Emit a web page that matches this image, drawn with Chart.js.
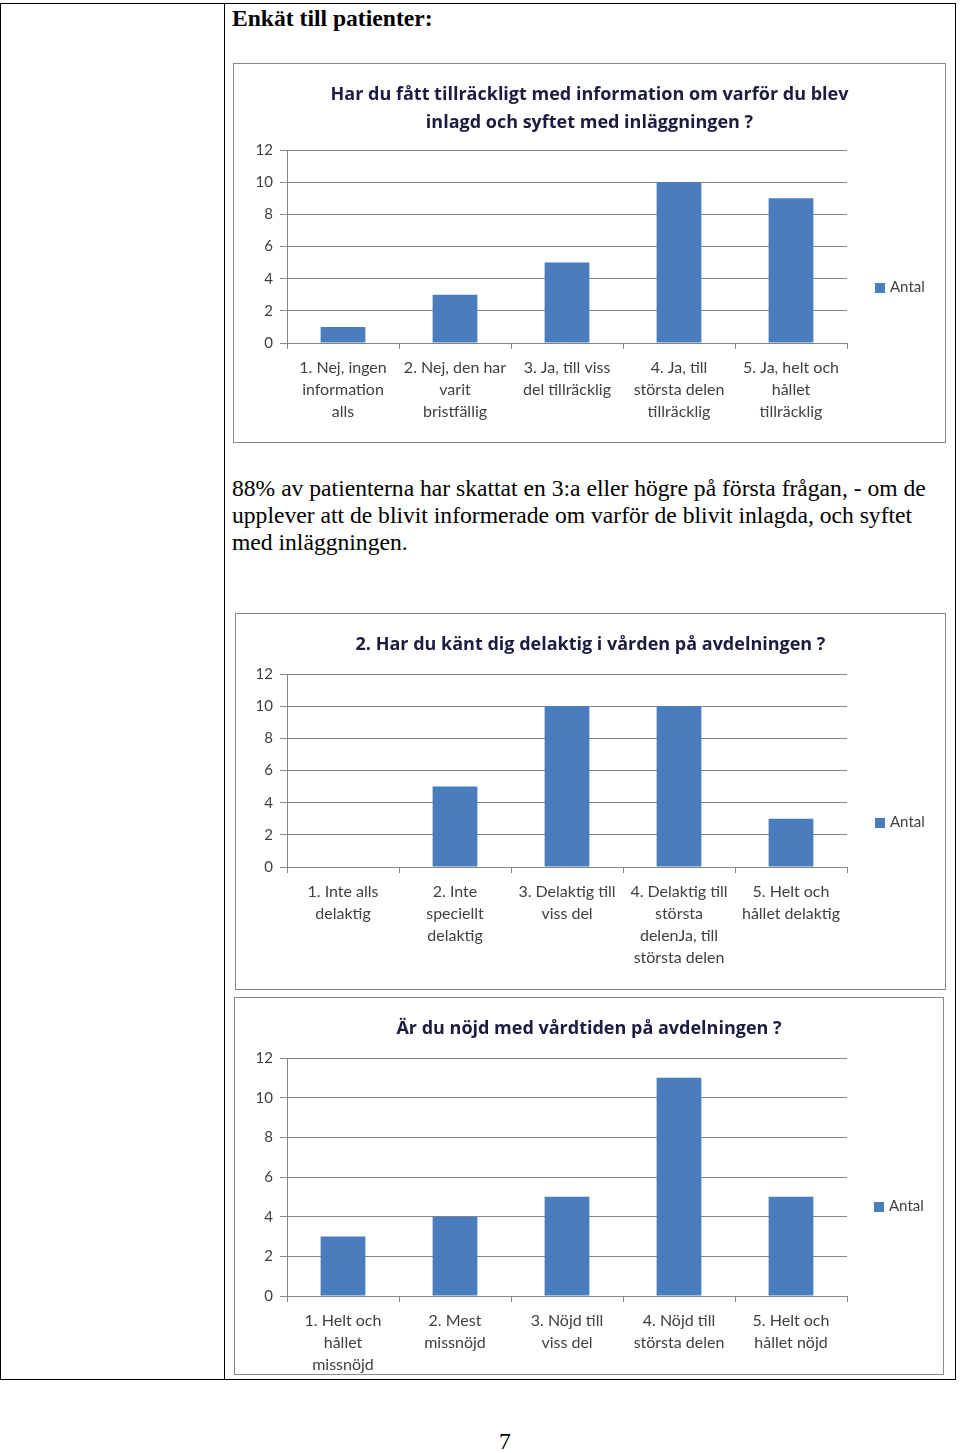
<!DOCTYPE html>
<html lang="sv">
<head>
<meta charset="utf-8">
<title>Enkät till patienter</title>
<script src="https://cdn.jsdelivr.net/npm/chart.js@4.4.1/dist/chart.umd.min.js"></script>
<style>
  body { margin: 0; background: #fff; width: 960px; height: 1453px; position: relative; overflow: hidden; }
  .abs { position: absolute; }
  .serif { font-family: "Liberation Serif", "DejaVu Serif", serif; color: #000; font-size: 23.6px; line-height: 27px; white-space: nowrap; }
  .box { position: absolute; border: 1px solid #8a8a8a; background: #fff; }
  .legend { position: absolute; font-family: Lato, "Open Sans", sans-serif; font-size: 15px; color: #404040; white-space: nowrap; }
  .legend i { display: inline-block; width: 10px; height: 10px; background: #4a7dbd; margin-right: 5px; vertical-align: -1px; }
</style>
</head>
<body>
<div class="abs" style="left:0;top:3px;width:954px;height:1375px;border:1px solid #000;"></div>
<div class="abs" style="left:224px;top:3px;width:1px;height:1377px;background:#000;"></div>

<div class="abs serif" style="left:232px;top:5px;font-weight:bold;">Enkät till patienter:</div>

<div class="box" style="left:233px;top:63px;width:711px;height:378px;"><canvas id="c1" width="711" height="378"></canvas></div>
<div class="legend" style="left:875px;top:277px;"><i></i>Antal</div>

<div class="abs serif" style="left:232px;top:475px;">88% av patienterna har skattat en 3:a eller högre på första frågan, - om de<br>upplever att de blivit informerade om varför de blivit inlagda, och syftet<br>med inläggningen.</div>

<div class="box" style="left:235px;top:613px;width:709px;height:375px;"><canvas id="c2" width="709" height="375"></canvas></div>
<div class="legend" style="left:875px;top:812px;"><i></i>Antal</div>

<div class="box" style="left:234px;top:997px;width:708px;height:376px;"><canvas id="c3" width="708" height="376"></canvas></div>
<div class="legend" style="left:874px;top:1196px;"><i></i>Antal</div>

<div class="abs serif" style="left:499px;top:1428px;">7</div>

<script>
// fråga 1
const title1 = ['Har du fått tillräckligt med information om varför du blev', 'inlagd och syftet med inläggningen ?'];
const categories1 = [
    ['1. Nej, ingen', 'information', 'alls'],
    ['2. Nej, den har', 'varit', 'bristfällig'],
    ['3. Ja, till viss', 'del tillräcklig'],
    ['4. Ja, till', 'största delen', 'tillräcklig'],
    ['5. Ja, helt och', 'hållet', 'tillräcklig']
];
const values1 = [1, 3, 5, 10, 9];

// fråga 2
const title2 = ['2. Har du känt dig delaktig i vården på avdelningen ?'];
const categories2 = [
    ['1. Inte alls', 'delaktig'],
    ['2. Inte', 'speciellt', 'delaktig'],
    ['3. Delaktig till', 'viss del'],
    ['4. Delaktig till', 'största', 'delenJa, till', 'största delen'],
    ['5. Helt och', 'hållet delaktig']
];
const values2 = [0, 5, 10, 10, 3];

// fråga 3
const title3 = ['Är du nöjd med vårdtiden på avdelningen ?'];
const categories3 = [
    ['1. Helt och', 'hållet', 'missnöjd'],
    ['2. Mest', 'missnöjd'],
    ['3. Nöjd till', 'viss del'],
    ['4. Nöjd till', 'största delen'],
    ['5. Helt och', 'hållet nöjd']
];
const values3 = [3, 4, 5, 11, 5];

const seriesName = 'Antal';
const yMax = 12;
const yStep = 2;

const font = 'Lato, "Open Sans", sans-serif';
const barColor = '#4a7dbd';
const lineColor = '#868686';

function makeChart(id, title, labels, values, box) {
    const ctx = document.getElementById(id).getContext('2d');
    return new Chart(ctx, {
        type: 'bar',
        data: {
            labels: labels,
            datasets: [{
                label: seriesName,
                data: values,
                backgroundColor: barColor,
                categoryPercentage: 1,
                barPercentage: 0.4
            }]
        },
        options: {
            responsive: false,
            animation: false,
            layout: { padding: 0 },
            plugins: {
                legend: { display: false },
                tooltip: { enabled: false },
                title: {
                    display: true,
                    text: title,
                    color: '#1c1c40',
                    font: { family: '"Open Sans", Lato, sans-serif', size: 18, weight: 'bold', lineHeight: '28px' },
                    padding: { top: 17, bottom: box.titleBottom }
                }
            },
            scales: {
                x: {
                    offset: true,
                    grid: { drawOnChartArea: false, offset: true, tickLength: 6, color: lineColor },
                    border: { color: lineColor },
                    ticks: {
                        color: '#404040',
                        padding: 8,
                        maxRotation: 0,
                        autoSkip: false,
                        font: { family: font, size: 16, lineHeight: '22px' }
                    },
                    afterFit: s => { s.height = box.xHeight; }
                },
                y: {
                    min: 0,
                    max: yMax,
                    grid: { color: lineColor, tickLength: 7 },
                    border: { color: lineColor },
                    ticks: {
                        stepSize: yStep,
                        color: '#404040',
                        padding: 7,
                        font: { family: font, size: 15 }
                    },
                    afterFit: s => { s.width = box.yWidth; }
                },
                // tom axel till höger: plats för förklaringen
                side: {
                    type: 'linear',
                    position: 'right',
                    grid: { display: false },
                    border: { display: false },
                    ticks: { display: false },
                    afterFit: s => { s.width = box.right; }
                }
            }
        }
    });
}

makeChart('c1', title1, categories1, values1, { right: 98, titleBottom: 13, xHeight: 99, yWidth: 53 });
makeChart('c2', title2, categories2, values2, { right: 98, titleBottom: 15, xHeight: 122, yWidth: 51 });
makeChart('c3', title3, categories3, values3, { right: 96, titleBottom: 15, xHeight: 78, yWidth: 52 });
</script>
</body>
</html>
